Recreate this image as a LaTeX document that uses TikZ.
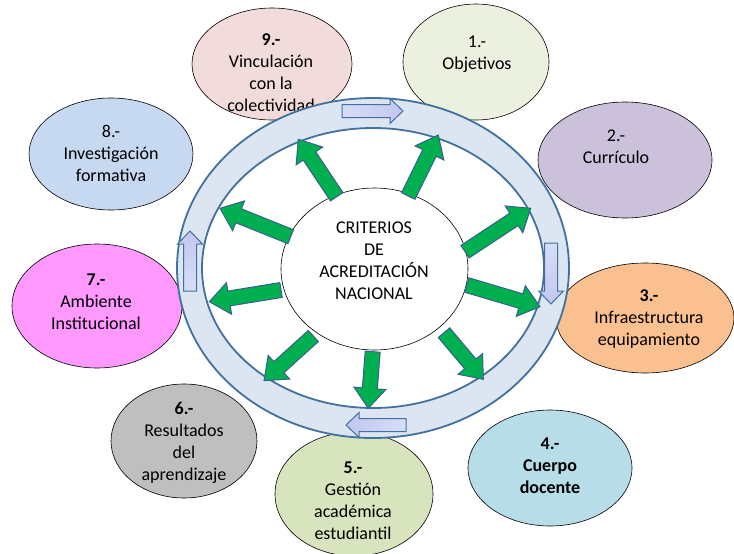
\documentclass[tikz,border=0pt]{standalone}
\usepackage{fontspec}
\setmainfont{Carlito}
\usetikzlibrary{shapes.geometric,calc}
\definecolor{c1}{HTML}{EBF1DE}
\definecolor{c2}{HTML}{CCC1DA}
\definecolor{c3}{HTML}{FAC090}
\definecolor{c4}{HTML}{B7DEE8}
\definecolor{c5}{HTML}{D7E4BD}
\definecolor{c6}{HTML}{BFBFBF}
\definecolor{c7}{HTML}{FF99FF}
\definecolor{c8}{HTML}{C6D9F1}
\definecolor{c9}{HTML}{F2DCDB}
\definecolor{ringfill}{HTML}{DCE6F2}
\definecolor{ringline}{HTML}{41719C}
\definecolor{grn}{HTML}{00B050}
\definecolor{grnline}{HTML}{3A5F8F}
\definecolor{bhead}{HTML}{C3C6F0}
\definecolor{btail}{HTML}{D6DEF6}
\newcommand\blockarrow[6]{%
  \draw[#6] let \p1=($(#2)-(#1)$), \n1={atan2(\y1,\x1)}, \n2={veclen(\x1,\y1)-#5},
    \n3={\n1+90}, \n4={\n1-90} in
    ($(#1)+(\n3:#3pt)$) -- ($(#1)+(\n1:\n2)+(\n3:#3pt)$) -- ($(#1)+(\n1:\n2)+(\n3:#4pt)$)
    -- (#2) -- ($(#1)+(\n1:\n2)+(\n4:#4pt)$) -- ($(#1)+(\n1:\n2)+(\n4:#3pt)$)
    -- ($(#1)+(\n4:#3pt)$) -- cycle;}
\begin{document}
\begin{tikzpicture}[x=1pt,y=-1pt,font=\fontsize{18}{22}\selectfont,
  bubble/.style={ellipse, draw=black, line width=0.6pt, inner sep=0pt},
  lbl/.style={align=center, inner sep=0pt},
  garrow/.style={fill=grn, draw=grnline, line width=1pt, line join=miter},
  barrow/.style={draw=ringline, line width=1pt, line join=miter}]
\useasboundingbox (0,0) rectangle (734,554);
% outer ellipses
\node[bubble, fill=c9, minimum width=160pt, minimum height=112pt] (e9) at (272,64) {};
\node[lbl] (t9) at (271,73) {\textbf{9.-}\\Vinculación\\con la\\colectividad};
\node[bubble, fill=c1, minimum width=146pt, minimum height=116pt] (e1) at (476,62) {};
\node[lbl] (t1) at (477,54) {1.-\\Objetivos};
\node[bubble, fill=c2, minimum width=174pt, minimum height=116pt] (e2) at (625,160) {};
\node[lbl] (t2) at (616,147) {2.-\\Currículo};
\node[bubble, fill=c3, minimum width=178pt, minimum height=110pt] (e3) at (645,318) {};
\node[lbl] (t3) at (649,319) {\textbf{3.-}\\Infraestructura\\equipamiento};
\node[bubble, fill=c4, minimum width=164pt, minimum height=116pt] (e4) at (550,468) {};
\node[lbl, font=\fontsize{18}{22}\selectfont\bfseries] (t4) at (550,466) {4.-\\Cuerpo\\docente};
\node[bubble, fill=c5, minimum width=158pt, minimum height=124pt] (e5) at (354,494) {};
\node[lbl] (t5) at (353,501) {\textbf{5.-}\\Gestión\\académica\\estudiantil};
\node[bubble, fill=c6, minimum width=146pt, minimum height=114pt] (e6) at (184,441) {};
\node[lbl] (t6) at (184,443) {\textbf{6.-}\\Resultados\\del\\aprendizaje};
\node[bubble, fill=c7, minimum width=170pt, minimum height=124pt] (e7) at (97,306) {};
\node[lbl] (t7) at (96,302) {\textbf{7.-}\\Ambiente\\Institucional};
\node[bubble, fill=c8, minimum width=164pt, minimum height=112pt] (e8) at (111,154) {};
\node[lbl] (t8) at (111,153) {8.-\\Investigación\\formativa};
% ring
\coordinate (rc) at (373,268);
\draw[ringline, line width=1.8pt, fill=ringfill, even odd rule]
  (rc) ellipse[x radius=196pt, y radius=170pt]
  (rc) ellipse[x radius=171pt, y radius=140pt];
% center
\node[bubble, fill=white, minimum width=187pt, minimum height=162pt] (ctr) at (374.5,269) {};
\node[lbl] (tc) at (374,261) {CRITERIOS\\DE\\ACREDITACIÓN\\NACIONAL};
% green arrows
\coordinate (g1s) at (336.7,196.7); \coordinate (g1t) at (298.3,139.3);
\coordinate (g2s) at (408.3,196);   \coordinate (g2t) at (438.3,135);
\coordinate (g3s) at (290.7,236.7); \coordinate (g3t) at (220,208.3);
\coordinate (g4s) at (465,251.7);   \coordinate (g4t) at (530.7,208.3);
\coordinate (g5s) at (281,290);     \coordinate (g5t) at (209.3,301.7);
\coordinate (g6s) at (466.7,285);   \coordinate (g6t) at (540,306.7);
\coordinate (g7s) at (313.3,336);   \coordinate (g7t) at (264,380.7);
\coordinate (g8s) at (372.7,351.7); \coordinate (g8t) at (368.3,408.3);
\coordinate (g9s) at (444,332.7);   \coordinate (g9t) at (483.3,379.3);
\foreach \i in {1,...,9}{\blockarrow{g\i s}{g\i t}{7.5}{16}{20}{garrow}}
% blue ring arrows
\coordinate (b1s) at (342,111); \coordinate (b1t) at (403,111);
\coordinate (b2s) at (551,243); \coordinate (b2t) at (551,304);
\coordinate (b3s) at (406,425); \coordinate (b3t) at (346,425);
\coordinate (b4s) at (190,291); \coordinate (b4t) at (190,231);
\blockarrow{b1s}{b1t}{6.5}{12.5}{13}{barrow, left color=btail, right color=bhead}
\blockarrow{b2s}{b2t}{6.5}{12.5}{13}{barrow, top color=btail, bottom color=bhead}
\blockarrow{b3s}{b3t}{6.5}{12.5}{13}{barrow, left color=bhead, right color=btail}
\blockarrow{b4s}{b4t}{6.5}{12.5}{13}{barrow, top color=bhead, bottom color=btail}
\end{tikzpicture}
\end{document}
